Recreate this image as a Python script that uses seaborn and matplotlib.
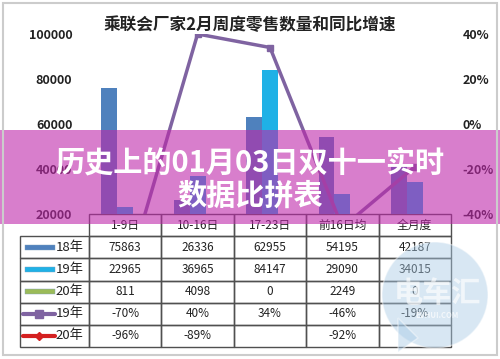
import numpy as np
import pandas as pd
import matplotlib
matplotlib.use("Agg")
import matplotlib.pyplot as plt
import seaborn as sns
from matplotlib.patches import Rectangle, Ellipse, Polygon
from matplotlib.lines import Line2D

categories = ['1-9日', '10-16日', '17-23日', '前16日均', '全月度']
series = ['18年', '19年', '20年']
sales_18 = [75863, 26336, 62955, 54195, 42187]
sales_19 = [22965, 36965, 84147, 29090, 34015]
sales_20 = [811, 4098, 0, 2249, 0]
yoy_19 = [-0.70, 0.40, 0.34, -0.46, -0.19]
yoy_20 = [-0.96, -0.89, np.nan, -0.92, np.nan]
left_ticks = [20000, 40000, 60000, 80000, 100000]
right_ticks = [-0.4, -0.2, 0.0, 0.2, 0.4]

title = '乘联会厂家2月周度零售数量和同比增速'
banner1 = '历史上的01月03日双十一实时'
banner2 = '数据比拼表'

bar_colors = ['#4f81bd', '#1fb1e6', '#9bbb59']
line_colors = ['#7f63a1', '#d42020']

sns.set_theme(style='white')
plt.rcParams['font.family'] = ['Noto Sans CJK SC', 'DejaVu Sans']

W, H = 500, 359
def fx(px):
    return px / W
def fy(py):
    return 1 - py / H

df = pd.DataFrame({
    '周度': categories * 3,
    '销量': sales_18 + sales_19 + sales_20,
    '年份': np.repeat(series, len(categories)),
})

fig = plt.figure(figsize=(5, 3.59), dpi=100)
ax = fig.add_axes([fx(89), fy(214), fx(451) - fx(89), fy(34) - fy(214)])
sns.barplot(data=df, x='周度', y='销量', hue='年份', hue_order=series,
            palette=bar_colors, width=0.66, saturation=1, linewidth=0,
            ax=ax, legend=False)
ax.set_xlim(-0.5, 4.5)
ax.set_ylim(20000, 100000)
ax.set_xticks([])
ax.set_xlabel('')
ax.set_ylabel('')
ax.set_yticks(left_ticks, labels=[str(v) for v in left_ticks])
ax.tick_params(axis='y', length=0, pad=12, labelsize=9, labelcolor='#222222')
for lab in ax.get_yticklabels():
    lab.set_fontweight('bold')
for s in ax.spines.values():
    s.set_visible(False)

ax2 = ax.twinx()
x = np.arange(len(categories))
ax2.plot(x, yoy_19, color=line_colors[0], lw=2.5, marker='s', ms=5)
ax2.plot(x, yoy_20, color=line_colors[1], lw=2.5, marker='D', ms=4)
ax2.set_ylim(-0.4, 0.4)
ax2.set_yticks(right_ticks, labels=[f'{v:.0%}' for v in right_ticks])
ax2.tick_params(axis='y', length=0, pad=8.5, labelsize=9, labelcolor='#222222')
for lab in ax2.get_yticklabels():
    lab.set_fontweight('bold')
for s in ax2.spines.values():
    s.set_visible(False)
ax2.grid(False)
ax.grid(False)

def pct(v):
    return '' if np.isnan(v) else f'{v:.0%}'

cell_text = [[s] + [str(v) for v in r] for s, r in zip(series, [sales_18, sales_19, sales_20])]
cell_text.append(['19年'] + [pct(v) for v in yoy_19])
cell_text.append(['20年'] + [pct(v) for v in yoy_20])

tbl = ax.table(cellText=cell_text, colLabels=[''] + categories,
               colWidths=[69] + [72.4] * 5, cellLoc='center',
               bbox=[(20 - 89) / 362, -(347 - 214) / 180, (451 - 20) / 362, 133 / 180])
tbl.auto_set_font_size(False)
tbl.set_fontsize(8.5)
for (r, c), cell in tbl.get_celld().items():
    cell.set_edgecolor('#505050')
    cell.set_linewidth(1)
    cell.set_facecolor('none')
    cell.get_text().set_color('#222222')
    if c == 0:
        cell.PAD = 0.08
        cell.get_text().set_horizontalalignment('right')
        cell.get_text().set_fontsize(9.5)
    if r == 0 and c == 0:
        cell.visible_edges = ''

# legend keys in the table
row_h = 133 / 6
centers = [214 + row_h * (i + 1.5) for i in range(5)]
for i in range(3):
    fig.add_artist(Rectangle((fx(25), fy(centers[i] + 2.5)), fx(55) - fx(25), 5 / H,
                             facecolor=bar_colors[i], edgecolor='#7f9fbf', lw=0.3,
                             transform=fig.transFigure, zorder=2))
for i, (mk, ms) in enumerate([('s', 6), ('D', 4)]):
    c = centers[3 + i]
    fig.add_artist(Line2D([fx(23), fx(55)], [fy(c), fy(c)], color=line_colors[i], lw=3,
                          transform=fig.transFigure, zorder=2))
    fig.add_artist(Line2D([fx(39)], [fy(c)], color=line_colors[i], marker=mk, ms=ms,
                          transform=fig.transFigure, zorder=2))

fig.text(0.5, fy(25), title, ha='center', va='center', fontsize=12,
         fontweight='bold', color='#222222')

# watermark bubble
fig.add_artist(Ellipse((fx(435), fy(295)), 106 / W, 106 / H, facecolor='#a9cbe6',
                       alpha=0.45, transform=fig.transFigure, zorder=3))
fig.add_artist(Polygon([(fx(398), fy(318)), (fx(418), fy(338)), (fx(398), fy(352))],
                       closed=True, facecolor='#a9cbe6', alpha=0.45,
                       transform=fig.transFigure, zorder=3))
fig.text(fx(437), fy(293), '电车汇', ha='center', va='center', fontsize=21,
         fontweight='bold', color='white', alpha=0.65, zorder=4)
fig.text(fx(437), fy(316), 'EVHUI.COM', ha='center', va='center', fontsize=5.5,
         fontweight='bold', color='white', alpha=0.7, zorder=4)

# pink banner
fig.add_artist(Rectangle((0, fy(224)), 1, 94 / H, facecolor=(190 / 255, 40 / 255, 170 / 255),
                         alpha=0.6, lw=0, transform=fig.transFigure, zorder=5))
fig.text(0.5, fy(162), banner1, ha='center', va='center', fontsize=21,
         fontweight='bold', color='white', zorder=6)
fig.text(0.5, fy(196), banner2, ha='center', va='center', fontsize=21,
         fontweight='bold', color='white', zorder=6)

fig.add_artist(Rectangle((fx(3), fy(355)), fx(494), 352 / H, fill=False,
                         edgecolor='#cccccc', lw=1.5, transform=fig.transFigure, zorder=7))

fig.savefig('out.png', dpi=100)
